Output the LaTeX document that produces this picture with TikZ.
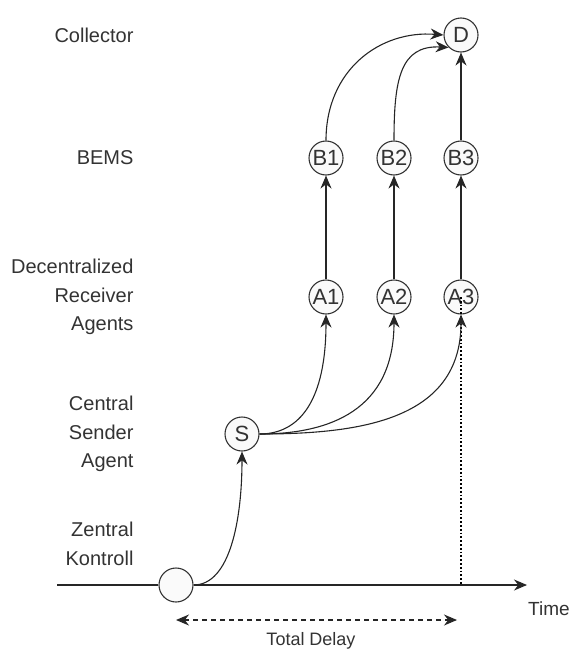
\documentclass[tikz,border=0pt]{standalone}
\usepackage{fontspec}
\setmainfont{Liberation Sans}
\usetikzlibrary{arrows.meta}
\begin{document}
\begin{tikzpicture}[x=1pt,y=-1pt,
  circ/.style={draw=black!80,line width=1.1pt,circle,minimum size=34pt,inner sep=0pt,fill=black!2,font=\fontsize{22}{22}\selectfont,text=black!80},
  lbl/.style={anchor=east,align=right,font=\fontsize{20}{28.5}\selectfont,text=black!80},
  conn/.style={line width=1.1pt,draw=black!85,-{Stealth[length=13pt,width=11pt]}}]
\useasboundingbox (0,0) rectangle (576,653);
\node[circ] (D) at (461,35) {D};
\node[circ] (B1) at (326,158) {B1};
\node[circ] (B2) at (394,158) {B2};
\node[circ] (B3) at (461,158) {B3};
\node[circ] (A1) at (326,297) {A1};
\node[circ] (A2) at (394,297) {A2};
\node[circ] (A3) at (461,297) {A3};
\node[circ] (S) at (242,434) {S};
\node[circ] (Z) at (176,585) {};
\coordinate (T0) at (57,585);
\coordinate (T1) at (527,585);
\coordinate (P) at (461,585);
\coordinate (L0) at (176,620);
\coordinate (L1) at (457,620);
\node[lbl] (lc) at (137,35) {Collector};
\node[lbl] (lb) at (137,158) {BEMS};
\node[lbl] (la) at (137,297) {Decentralized\\Receiver\\Agents};
\node[lbl] (ls) at (137,434) {Central\\Sender\\Agent};
\node[lbl] (lz) at (137,544) {Zentral\\Kontroll};
\node[font=\fontsize{19}{19}\selectfont,text=black!80] (time) at (549,609) {Time};
\node[font=\fontsize{18}{18}\selectfont,text=black!80] (td) at (311,641) {Total Delay};
% axis
\draw[line width=1.1pt,draw=black!85] (T0) -- (Z.west);
\draw[conn] (Z.east) -- (T1);
\draw[line width=1.8pt,dotted,draw=black] (A3.center) -- (P);
\draw[line width=1.1pt,dash pattern=on 5pt off 4pt,draw=black!85,{Stealth[length=13pt,width=11pt]}-{Stealth[length=13pt,width=11pt]}] (L0) -- (L1);
% connectors
\draw[conn] (Z.east) .. controls (230,585) and (242,520) .. (S.south);
\draw[conn] (S.east) .. controls (300,434) and (326,400) .. (A1.south);
\draw[conn] (S.east) .. controls (330,434) and (394,410) .. (A2.south);
\draw[conn] (S.east) .. controls (360,434) and (461,420) .. (A3.south);
\draw[conn] (A1) -- (B1);
\draw[conn] (A2) -- (B2);
\draw[conn] (A3) -- (B3);
\draw[conn] (B3) -- (D);
\draw[conn] (B1.north) .. controls (326,70) and (380,30) .. (D.west);
\draw[conn] (B2.north) .. controls (394,80) and (400,45) .. (D.south west);
\end{tikzpicture}
\end{document}
